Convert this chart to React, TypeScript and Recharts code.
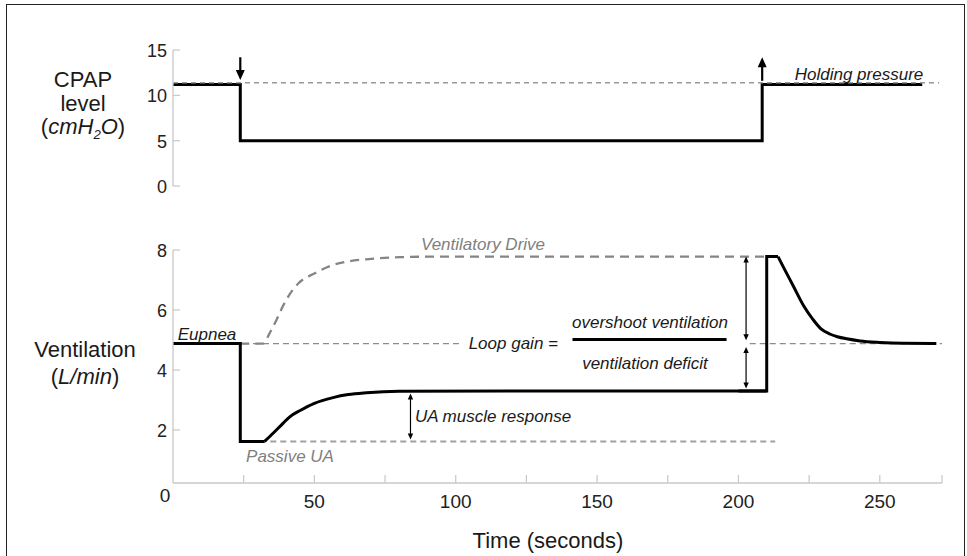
import React from 'react';
import { ComposedChart, Line, XAxis, YAxis, ReferenceLine } from 'recharts';

// axis ticks
const timeTicks = [0, 25, 50, 75, 100, 125, 150, 175, 200, 225, 250, 272];
const timeLabels = [50, 100, 150, 200, 250];
const cpapTicks = [0, 5, 10, 15];
const ventTicks = [2, 4, 6, 8];

// CPAP level (cmH2O)
const cpapTime = [0, 23.8, 23.8, 208.4, 208.4, 265];
const cpapLevel = [11.2, 11.2, 5, 5, 11.2, 11.2];
const holdingTime = [0, 271];
const holdingLevel = [11.4, 11.4];

// ventilation (L/min), split into step parts and smooth parts
const ventStepTime = [0, 23.8, 23.8, 32.4];
const ventStepValue = [4.88, 4.88, 1.62, 1.62];
const ventRiseTime = [32.4, 35.4, 38.9, 41.3, 44.8, 50, 56.6, 62, 68.4, 80, 120, 210];
const ventRiseValue = [1.62, 1.89, 2.22, 2.44, 2.64, 2.89, 3.08, 3.18, 3.24, 3.29, 3.3, 3.3];
const ventJumpTime = [200, 210, 210, 214];
const ventJumpValue = [3.3, 3.3, 7.78, 7.78];
const ventDecayTime = [214, 216.5, 219.4, 223, 226.4, 229, 232.3, 235, 238.3, 243, 250, 258, 270];
const ventDecayValue = [7.78, 7.32, 6.8, 6.15, 5.68, 5.39, 5.2, 5.11, 5.04, 4.97, 4.92, 4.89, 4.88];
const driveTime = [23.8, 31.8, 34.2, 36.6, 38.9, 41.3, 44.4, 50, 56.6, 62, 68.4, 80.2, 95, 209.4];
const driveValue = [4.88, 4.88, 5.23, 5.67, 6.13, 6.53, 6.89, 7.22, 7.5, 7.62, 7.69, 7.76, 7.78, 7.78];
const eupneaLeftTime = [0, 101.5];
const eupneaRightTime = [204, 272];
const eupneaValue = [4.88, 4.88];
const passiveTime = [23.8, 213];
const passiveValue = [1.62, 1.62];

// annotation arrows: [time, from, to]
const cpapDownArrow = [23.8, 14.2, 11.7];
const cpapUpArrow = [208.4, 11.6, 14.2];
const uaArrow = [84, 3.22, 1.68];
const overshootArrow = [202.7, 7.78, 4.99];
const deficitArrow = [202.7, 4.77, 3.38];
const fractionBar = [141.3, 195.8, 5.02];

const FONT = '"Liberation Sans", Arial, sans-serif';
const AXIS = '#c8c8c8';
const W = 967;

const toRows = (ts: number[], vs: number[]) => ts.map((t, i) => ({ t, v: vs[i] }));

const arrowShape = (head: number, width: number, both: boolean) => (p: any) => {
  const { x1, y1, x2, y2 } = p;
  const dx = x2 - x1;
  const dy = y2 - y1;
  const len = Math.hypot(dx, dy) || 1;
  const ux = dx / len;
  const uy = dy / len;
  const tri = (tx: number, ty: number, sx: number, sy: number) => {
    const bx = tx - sx * head;
    const by = ty - sy * head;
    const hw = head * 0.45;
    return `${tx},${ty} ${bx - sy * hw},${by + sx * hw} ${bx + sy * hw},${by - sx * hw}`;
  };
  const sx1 = both ? x1 + ux * head * 0.6 : x1;
  const sy1 = both ? y1 + uy * head * 0.6 : y1;
  return (
    <g>
      <line x1={sx1} y1={sy1} x2={x2 - ux * head * 0.6} y2={y2 - uy * head * 0.6} stroke="#000" strokeWidth={width} />
      <polygon points={tri(x2, y2, ux, uy)} fill="#000" />
      {both && <polygon points={tri(x1, y1, -ux, -uy)} fill="#000" />}
    </g>
  );
};

// y ticks point inward (to the right), labels sit left of the axis
const YTick = (props: any) => {
  const { x, y, payload } = props;
  return (
    <g>
      <line x1={x} y1={y} x2={x + 7} y2={y} stroke={AXIS} strokeWidth={1.2} />
      <text x={x - 6} y={y + 1} textAnchor="end" dominantBaseline="central" fontSize={18} fill="#222" fontFamily={FONT}>
        {payload.value}
      </text>
    </g>
  );
};

const XTick = (props: any) => {
  const { x, y, payload } = props;
  const v = payload.value;
  return (
    <g>
      {v > 0 && <line x1={x} y1={y} x2={x} y2={y - 8} stroke={AXIS} strokeWidth={1.2} />}
      {timeLabels.includes(v) && (
        <text x={x} y={y + 18} textAnchor="middle" dominantBaseline="central" fontSize={19} fill="#222" fontFamily={FONT}>
          {v}
        </text>
      )}
      {v === 0 && (
        <text x={x - 8} y={y + 12} textAnchor="middle" dominantBaseline="central" fontSize={19} fill="#222" fontFamily={FONT}>
          0
        </text>
      )}
    </g>
  );
};

const Note = ({ x, y, children, color = '#1a1a1a', size = 17, anchor = 'middle', italic = true }: any) => (
  <div
    style={{
      position: 'absolute',
      left: x,
      top: y,
      transform: anchor === 'end' ? 'translate(-100%, -50%)' : 'translate(-50%, -50%)',
      whiteSpace: 'nowrap',
      lineHeight: 1,
      fontSize: size,
      fontStyle: italic ? 'italic' : 'normal',
      color,
    }}
  >
    {children}
  </div>
);

const Title = ({ cx, top, children }: any) => (
  <div style={{ position: 'absolute', left: cx - 80, width: 160, top, textAlign: 'center', fontSize: 22, lineHeight: '24px', color: '#1a1a1a' }}>
    {children}
  </div>
);

const App: React.FC = () => {
  const cpapData = toRows(cpapTime, cpapLevel);
  const holdingData = toRows(holdingTime, holdingLevel);
  const stepData = toRows(ventStepTime, ventStepValue);
  const riseData = toRows(ventRiseTime, ventRiseValue);
  const jumpData = toRows(ventJumpTime, ventJumpValue);
  const decayData = toRows(ventDecayTime, ventDecayValue);
  const driveData = toRows(driveTime, driveValue);
  const eupneaLeft = toRows(eupneaLeftTime, eupneaValue);
  const eupneaRight = toRows(eupneaRightTime, eupneaValue);
  const passiveData = toRows(passiveTime, passiveValue);

  const solid = { dataKey: 'v', stroke: '#000', strokeWidth: 3, dot: false, activeDot: false, isAnimationActive: false } as const;

  return (
    <div style={{ position: 'absolute', left: 0, top: 0, width: W, height: 556, overflow: 'hidden', background: '#fff', fontFamily: FONT }}>
      <div style={{ position: 'absolute', left: 6, top: 4, width: 957, height: 600, border: '1.5px solid #222' }} />

      {/* CPAP panel */}
      <div style={{ position: 'absolute', left: 0, top: 0 }}>
        <ComposedChart width={W} height={200} margin={{ top: 50, right: 25, left: 172, bottom: 14 }}>
          <XAxis dataKey="t" type="number" domain={[0, 272]} allowDataOverflow hide />
          <YAxis
            type="number"
            domain={[0, 15]}
            ticks={cpapTicks}
            width={1}
            tickSize={0}
            tickMargin={0}
            tickLine={false}
            axisLine={{ stroke: AXIS, strokeWidth: 1.3 }}
            tick={<YTick />}
            allowDataOverflow
          />
          <Line data={cpapData} {...solid} type="linear" strokeLinejoin="miter" />
          <Line data={holdingData} dataKey="v" stroke="#999" strokeWidth={1.5} strokeDasharray="5 4" dot={false} activeDot={false} isAnimationActive={false} />
          <ReferenceLine segment={[{ x: cpapDownArrow[0], y: cpapDownArrow[1] }, { x: cpapDownArrow[0], y: cpapDownArrow[2] }]} shape={arrowShape(10, 2.2, false)} ifOverflow="visible" />
          <ReferenceLine segment={[{ x: cpapUpArrow[0], y: cpapUpArrow[1] }, { x: cpapUpArrow[0], y: cpapUpArrow[2] }]} shape={arrowShape(10, 2.2, false)} ifOverflow="visible" />
        </ComposedChart>
      </div>

      {/* Ventilation panel */}
      <div style={{ position: 'absolute', left: 0, top: 200 }}>
        <ComposedChart width={W} height={356} margin={{ top: 50, right: 25, left: 172, bottom: 43 }}>
          <XAxis
            dataKey="t"
            type="number"
            domain={[0, 272]}
            ticks={timeTicks}
            interval={0}
            height={30}
            tickSize={0}
            tickMargin={0}
            tickLine={false}
            axisLine={{ stroke: AXIS, strokeWidth: 1.3 }}
            tick={<XTick />}
            allowDataOverflow
          />
          <YAxis
            type="number"
            domain={[0.233, 8]}
            ticks={ventTicks}
            width={1}
            tickSize={0}
            tickMargin={0}
            tickLine={false}
            axisLine={{ stroke: AXIS, strokeWidth: 1.3 }}
            tick={<YTick />}
            allowDataOverflow
          />
          <Line data={eupneaLeft} dataKey="v" stroke="#8c8c8c" strokeWidth={1.3} strokeDasharray="6 4" dot={false} activeDot={false} isAnimationActive={false} />
          <Line data={eupneaRight} dataKey="v" stroke="#8c8c8c" strokeWidth={1.3} strokeDasharray="6 4" dot={false} activeDot={false} isAnimationActive={false} />
          <Line data={passiveData} dataKey="v" stroke="#a0a0a0" strokeWidth={2} strokeDasharray="6 4" dot={false} activeDot={false} isAnimationActive={false} />
          <Line data={driveData} type="monotone" dataKey="v" stroke="#858585" strokeWidth={2.3} strokeDasharray="9 6" dot={false} activeDot={false} isAnimationActive={false} />
          <Line data={stepData} {...solid} type="linear" strokeLinejoin="miter" />
          <Line data={riseData} {...solid} type="monotone" />
          <Line data={jumpData} {...solid} type="linear" strokeLinejoin="miter" />
          <Line data={decayData} {...solid} type="monotone" />
          <ReferenceLine segment={[{ x: uaArrow[0], y: uaArrow[1] }, { x: uaArrow[0], y: uaArrow[2] }]} shape={arrowShape(6, 1.2, true)} ifOverflow="visible" />
          <ReferenceLine segment={[{ x: overshootArrow[0], y: overshootArrow[1] }, { x: overshootArrow[0], y: overshootArrow[2] }]} shape={arrowShape(6, 1.2, true)} ifOverflow="visible" />
          <ReferenceLine segment={[{ x: deficitArrow[0], y: deficitArrow[1] }, { x: deficitArrow[0], y: deficitArrow[2] }]} shape={arrowShape(6, 1.2, true)} ifOverflow="visible" />
          <ReferenceLine segment={[{ x: fractionBar[0], y: fractionBar[2] }, { x: fractionBar[1], y: fractionBar[2] }]} stroke="#000" strokeWidth={3} ifOverflow="visible" />
        </ComposedChart>
      </div>

      {/* axis titles */}
      <Title cx={83} top={68}>CPAP</Title>
      <Title cx={83} top={92}>level</Title>
      <Title cx={83} top={115}>
        (<i>cmH<sub style={{ fontSize: '0.6em', verticalAlign: '-0.35em', lineHeight: 0 }}>2</sub>O</i>)
      </Title>
      <Title cx={85} top={338}>Ventilation</Title>
      <Title cx={85} top={365}>
        (<i>L/min</i>)
      </Title>
      <Note x={548} y={541} size={22} italic={false}>Time (seconds)</Note>

      {/* annotations */}
      <Note x={859} y={74}>Holding pressure</Note>
      <Note x={483} y={244} color="#808080">Ventilatory Drive</Note>
      <Note x={207} y={334}>Eupnea</Note>
      <Note x={290} y={456} color="#808080">Passive UA</Note>
      <Note x={493} y={416}>UA muscle response</Note>
      <Note x={558} y={343} anchor="end">Loop gain =</Note>
      <Note x={650} y={322}>overshoot ventilation</Note>
      <Note x={645} y={363}>ventilation deficit</Note>
    </div>
  );
};

export default App;
